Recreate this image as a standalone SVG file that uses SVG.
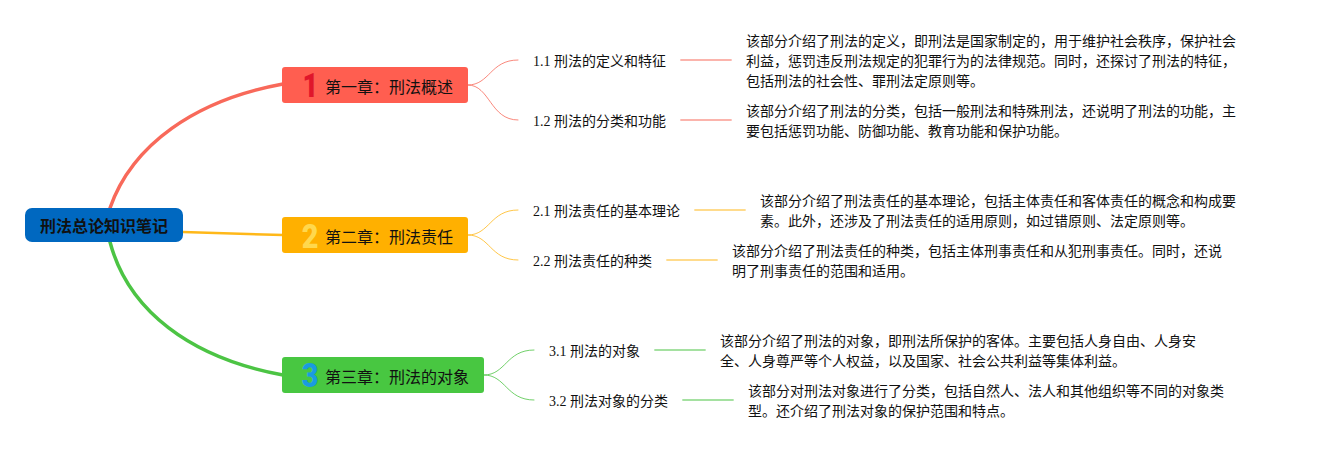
<svg xmlns="http://www.w3.org/2000/svg" width="1320" height="450" viewBox="0 0 1320 450">
<style>
text{font-family:"Liberation Serif","Noto Sans CJK SC",serif;fill:#111}
.t{font-size:14px}
.c{font-size:16px}
.r{font-size:16px;font-weight:700;font-family:"Noto Sans CJK SC",sans-serif}
.i{font-family:Roboto,"Liberation Sans",sans-serif;font-weight:900;font-size:34px;text-anchor:middle}
.m{fill:none;stroke-linecap:round}
.red{stroke:#F8695A}.org{stroke:#FFB819}.grn{stroke:#4CC444}
.l1{stroke-width:3.5}.l2{stroke-width:.8}.l3{stroke-width:1.8;opacity:.5}
</style>
<rect width="1320" height="450" fill="#fff"/>
<g id="connectors">
<path class="m l1 red" d="M110 208C132 145 195 100 283 84"/>
<path class="m l1 org" style="stroke-width:2.5" d="M183 232L283 235"/>
<path class="m l1 grn" d="M110 242C128 310 190 358 283 375"/>
<path class="m l2 red" d="M468 85C490 85 490 60 518 60M468 85C490 85 490 120 518 120"/>
<path class="m l2 org" d="M468 235C490 235 490 210 518 210M468 235C490 235 490 260 518 260"/>
<path class="m l2 grn" d="M484 375C506 375 506 350 534 350M484 375C506 375 506 400 534 400"/>
<path class="m l3 red" d="M681 60H731M681 120H731"/>
<path class="m l3 org" d="M695 210H745M667 260H717"/>
<path class="m l3 grn" d="M655 350H705M683 400H733"/>
</g>
<g id="root"><rect x="25" y="208" width="158" height="34" rx="7" fill="#0068C0"/><text class="r" x="40" y="232">刑法总论知识笔记</text></g>
<g id="ch1"><rect x="282" y="67" width="186" height="36" rx="3" fill="#FF5E50"/><text class="i" transform="translate(310.500 97) scale(.8 1)" style="fill:#E0162B">1</text><text class="c" x="325" y="93">第一章：刑法概述</text></g>
<g id="ch2"><rect x="282" y="217" width="186" height="36" rx="3" fill="#FFB000"/><text class="i" transform="translate(310 247.500) scale(.85 1)" style="fill:#FFD84D">2</text><text class="c" x="325" y="243">第二章：刑法责任</text></g>
<g id="ch3"><rect x="282" y="357" width="202" height="36" rx="3" fill="#48C741"/><text class="i" transform="translate(310 387) scale(.85 1)" style="fill:#1A9BE0">3</text><text class="c" x="325" y="383">第三章：刑法的对象</text></g>
<g id="s11"><text class="t" x="533" y="66">1.1 刑法的定义和特征</text></g>
<g id="s12"><text class="t" x="533" y="126">1.2 刑法的分类和功能</text></g>
<g id="s21"><text class="t" x="533" y="216">2.1 刑法责任的基本理论</text></g>
<g id="s22"><text class="t" x="533" y="266">2.2 刑法责任的种类</text></g>
<g id="s31"><text class="t" x="549" y="356">3.1 刑法的对象</text></g>
<g id="s32"><text class="t" x="549" y="406">3.2 刑法对象的分类</text></g>
<g id="d11"><text class="t" x="746" y="46">该部分介绍了刑法的定义，即刑法是国家制定的，用于维护社会秩序，保护社会</text><text class="t" x="746" y="66">利益，惩罚违反刑法规定的犯罪行为的法律规范。同时，还探讨了刑法的特征，</text><text class="t" x="746" y="86">包括刑法的社会性、罪刑法定原则等。</text></g>
<g id="d12"><text class="t" x="746" y="116">该部分介绍了刑法的分类，包括一般刑法和特殊刑法，还说明了刑法的功能，主</text><text class="t" x="746" y="136">要包括惩罚功能、防御功能、教育功能和保护功能。</text></g>
<g id="d21"><text class="t" x="760" y="206">该部分介绍了刑法责任的基本理论，包括主体责任和客体责任的概念和构成要</text><text class="t" x="760" y="226">素。此外，还涉及了刑法责任的适用原则，如过错原则、法定原则等。</text></g>
<g id="d22"><text class="t" x="732" y="256">该部分介绍了刑法责任的种类，包括主体刑事责任和从犯刑事责任。同时，还说</text><text class="t" x="732" y="276">明了刑事责任的范围和适用。</text></g>
<g id="d31"><text class="t" x="720" y="346">该部分介绍了刑法的对象，即刑法所保护的客体。主要包括人身自由、人身安</text><text class="t" x="720" y="366">全、人身尊严等个人权益，以及国家、社会公共利益等集体利益。</text></g>
<g id="d32"><text class="t" x="748" y="396">该部分对刑法对象进行了分类，包括自然人、法人和其他组织等不同的对象类</text><text class="t" x="748" y="416">型。还介绍了刑法对象的保护范围和特点。</text></g>
</svg>
